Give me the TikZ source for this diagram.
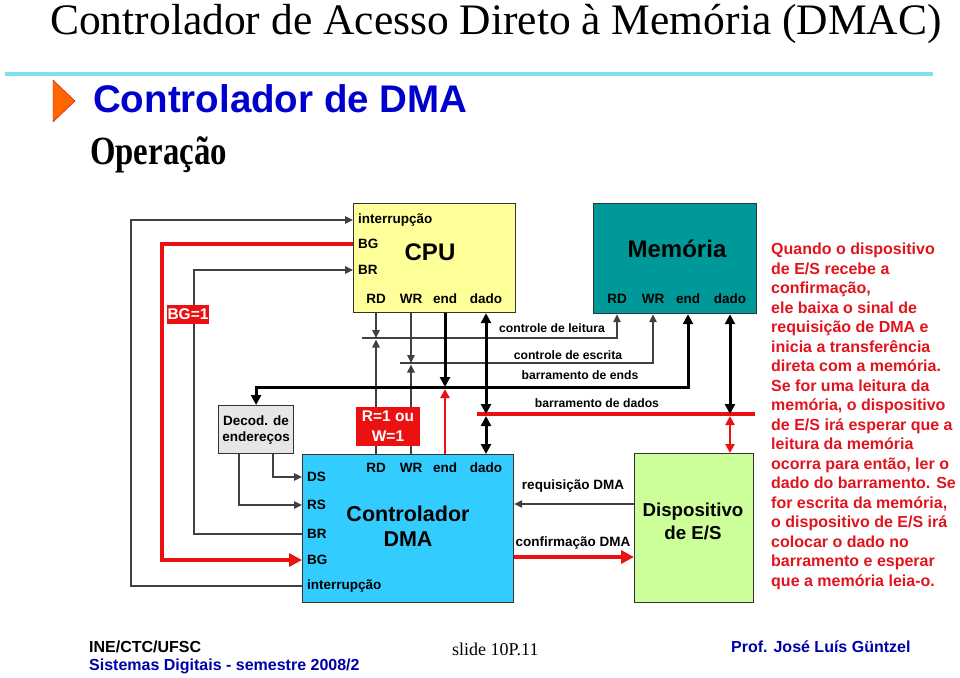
\documentclass[tikz,border=0pt]{standalone}
\usepackage{fontspec}
\setmainfont{Liberation Serif}
\setsansfont{Liberation Sans}
\newfontfamily\narrowserif[FakeStretch=0.82]{Liberation Serif}
\usepackage{tikz}
\usetikzlibrary{calc,positioning,arrows.meta}

\definecolor{cpuyellow}{RGB}{255,255,153}
\definecolor{memteal}{RGB}{0,153,153}
\definecolor{dmablue}{RGB}{51,204,255}
\definecolor{devgreen}{RGB}{204,255,153}
\definecolor{decgray}{RGB}{230,230,230}
\definecolor{sigred}{RGB}{236,17,17}
\definecolor{txtred}{RGB}{225,20,30}
\definecolor{hdblue}{RGB}{0,0,204}
\definecolor{ftblue}{RGB}{0,0,170}
\definecolor{rulecyan}{RGB}{128,224,240}
\definecolor{tiporange}{RGB}{255,102,0}

\newcommand{\fsz}[2]{\fontsize{#1}{#2}\selectfont}

\begin{document}
\begin{tikzpicture}[
x=1pt, y=-1pt,
box/.style={
	draw=black!80, line width=1.2pt,
	anchor=north west, inner sep=0pt
},
port/.style={font=\sffamily\bfseries\fsz{13.5}{14}, inner sep=0pt},
sidelbl/.style={port, anchor=west},
lbl/.style={font=\sffamily\bfseries\fsz{12.2}{13}, inner sep=0pt},
tag/.style={fill=sigred, text=white, align=center, inner sep=1pt,
	font=\sffamily\bfseries\fsz{15.5}{20}},
sig/.style={draw=black!75, line width=1.3pt, >={Triangle[length=8pt,width=7.5pt]}},
bus/.style={draw=black, line width=3pt, >={Triangle[length=10pt,width=10pt]}},
rsig/.style={draw=sigred, line width=2.5pt, >={Triangle[length=9pt,width=9pt]}},
rbus/.style={draw=sigred, line width=4.5pt, >={Triangle[length=13pt,width=13pt]}}
]
\useasboundingbox (0,0) rectangle (960,677);

% cabecalho
\node[anchor=base, font=\fsz{43.5}{44}, inner sep=0pt] (title) at (496,35)
	{Controlador de Acesso Direto à Memória (DMAC)};
\draw[rulecyan, line width=3.5pt] (5,74) -- (933,74);
\filldraw[fill=tiporange, draw=red!80!black] (53,80) -- (75,101) -- (53,122) -- cycle;
\node[anchor=base west, font=\sffamily\bfseries\fsz{38.5}{40}, text=hdblue, inner sep=0pt]
	(sub) at (93,112) {Controlador de DMA};
\node[anchor=base west, font=\narrowserif\bfseries\fsz{40}{40}, inner sep=0pt]
	(op) at (90,164) {Operação};

% blocos
\node[box, fill=cpuyellow, minimum width=162pt, minimum height=109pt] (cpu) at (353,203) {};
\node[box, fill=memteal, minimum width=163pt, minimum height=110pt] (mem) at (593,203) {};
\node[box, fill=dmablue, minimum width=211pt, minimum height=148pt] (dma) at (302,454) {};
\node[box, fill=devgreen, minimum width=119pt, minimum height=149pt] (dev) at (634,453) {};
\node[box, fill=decgray, minimum width=75pt, minimum height=48pt, align=center,
	font=\sffamily\bfseries\fsz{13.5}{16}] (decod) at (218,405) {Decod. de\\endereços};

\node[font=\sffamily\bfseries\fsz{24}{24}] (cpulbl) at (430,252) {CPU};
\node[font=\sffamily\bfseries\fsz{24}{24}] (memlbl) at (677,249) {Memória};
\node[align=center, font=\sffamily\bfseries\fsz{21.5}{25}] (dmalbl) at (408,526) {Controlador\\DMA};
\node[align=center, font=\sffamily\bfseries\fsz{18.7}{23}] (devlbl) at (693,521) {Dispositivo\\de E/S};

% sinais dos blocos
\foreach \n/\x in {RD/376,WR/411,end/445,dado/486}
{
	\node[port] (cpu\n) at (\x,299) {\n};
	\node[port] (dma\n) at (\x,468) {\n};
}
\foreach \n/\x in {RD/617,WR/653,end/688,dado/730}
	\node[port] (mem\n) at (\x,299) {\n};
\node[sidelbl] (cpuINT) at (358,220) {interrupção};
\node[sidelbl] (cpuBG) at (358,244) {BG};
\node[sidelbl] (cpuBR) at (358,270) {BR};
\foreach \n/\y in {DS/477,RS/505,BR/534,BG/560}
	\node[sidelbl] (dma\n) at (307,\y) {\n};
\node[sidelbl] (dmaINT) at (307,586) {interrupção};

% linhas da esquerda
\coordinate (railA) at (131,0);
\coordinate (railB) at (162,0);
\coordinate (railC) at (194,0);
\draw[sig,->] (dmaINT -| dma.west) -- (dmaINT -| railA) |- (cpuINT -| cpu.west);
\draw[sig,->] (dmaBR -| dma.west) -- (dmaBR -| railC) |- (cpuBR -| cpu.west);
\draw[rbus,->] (cpuBG -| cpu.west) -- (cpuBG -| railB) |- (dmaBG -| dma.west);
\draw[sig,->] ([xshift=17pt]decod.south) |- (dmaDS -| dma.west);
\draw[sig,->] ([xshift=-17pt]decod.south) |- (dmaRS -| dma.west);

% barramentos
\coordinate (lei) at (362,338);
\coordinate (esc) at (400,363);
\coordinate (ends) at (0,387);
\coordinate (dadL) at (477,414);
\coordinate (dadR) at (755,414);
\draw[sig,->] (lei) -| (memRD |- mem.south);
\draw[sig,->] (esc) -| (memWR |- mem.south);
\draw[sig,->] (cpuRD |- cpu.south) -- (cpuRD |- lei);
\draw[sig,->] (dmaRD |- dma.north) -- ($(dmaRD |- lei)+(0,1.5)$);
\draw[sig,->] (cpuWR |- cpu.south) -- (cpuWR |- esc);
\draw[sig,->] (dmaWR |- dma.north) -- ($(dmaWR |- esc)+(0,1.5)$);
\draw[bus,<->] (decod.north) -- (decod.north |- ends) -| (memend |- mem.south);
\draw[bus,->] (cpuend |- cpu.south) -- (cpuend |- ends);
\draw[rsig,->] (dmaend |- dma.north) -- ($(dmaend |- ends)+(0,2)$);
\draw[rsig, line width=3.5pt] (dadL) -- (dadR);
\draw[bus,<->] (cpudado |- cpu.south) -- (cpudado |- dadL);
\draw[bus,<->] ($(dmadado |- dadL)+(0,2)$) -- (dmadado |- dma.north);
\draw[bus,<->] (memdado |- mem.south) -- (memdado |- dadL);
\draw[rsig,<->] ($(memdado |- dadL)+(0,2)$) -- (memdado |- dev.north);

\node[lbl] (leilbl) at (552,328) {controle de leitura};
\node[lbl] (esclbl) at (568,355) {controle de escrita};
\node[lbl] (endlbl) at (580,375) {barramento de ends};
\node[lbl] (dadlbl) at (597,403) {barramento de dados};

% requisicao e confirmacao
\coordinate (req) at (0,504);
\coordinate (conf) at (0,557);
\draw[sig,->] (req -| dev.west) -- (req -| dma.east);
\draw[rbus,->] (conf -| dma.east) -- (conf -| dev.west);
\node[lbl, font=\sffamily\bfseries\fsz{13.5}{14}] (reqlbl) at (573,486) {requisição DMA};
\node[lbl, font=\sffamily\bfseries\fsz{13.5}{14}] (conflbl) at (573,543) {confirmação DMA};

% etiquetas vermelhas
\node[tag, minimum width=42pt, minimum height=19pt, inner sep=0pt] (bg1) at (188,314) {BG=1};
\node[tag, minimum width=64pt, minimum height=39pt, inner sep=0pt] (rw1) at (388,426) {R=1 ou\\W=1};

% texto lateral
\node[anchor=north west, align=left, text=txtred, inner sep=0pt,
	font=\sffamily\bfseries\fsz{16}{19.5}] (note) at (771,243) {%
Quando o dispositivo\\
de E/S recebe a\\
confirmação,\\
ele baixa o sinal de\\
requisição de DMA e\\
inicia a transferência\\
direta com a memória.\\
Se for uma leitura da\\
memória, o dispositivo\\
de E/S irá esperar que a\\
leitura da memória\\
ocorra para então, ler o\\
dado do barramento. Se\\
for escrita da memória,\\
o dispositivo de E/S irá\\
colocar o dado no\\
barramento e esperar\\
que a memória leia-o.};

% rodape
\node[anchor=base west, font=\sffamily\bfseries\fsz{16}{16}, inner sep=0pt] (ine) at (89,652) {INE/CTC/UFSC};
\node[anchor=base west, font=\sffamily\bfseries\fsz{16}{16}, text=ftblue, inner sep=0pt]
	(disc) at (89,670) {Sistemas Digitais - semestre 2008/2};
\node[anchor=base west, font=\fsz{18}{18}, inner sep=0pt] (slide) at (452,655) {slide 10P.11};
\node[anchor=base west, font=\sffamily\bfseries\fsz{16}{16}, text=ftblue, inner sep=0pt]
	(prof) at (731,652) {Prof. José Luís Güntzel};
\end{tikzpicture}
\end{document}
